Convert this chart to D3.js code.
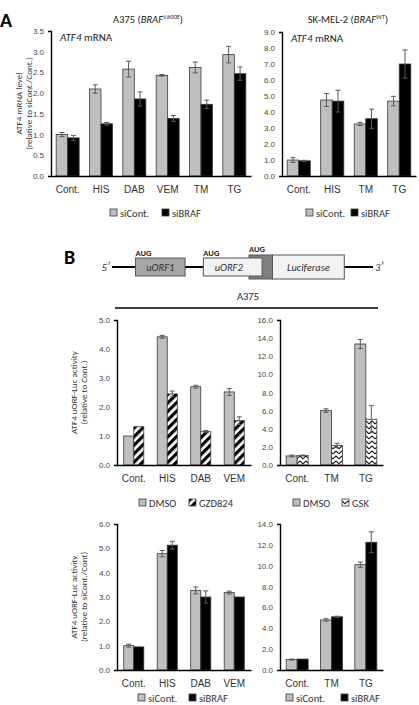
<!DOCTYPE html>
<html>
<head>
<meta charset="utf-8">
<script src="https://cdn.jsdelivr.net/npm/d3@7"></script>
<style>
  body { margin: 0; background: #fff; }
  svg { display: block; font-family: Carlito, Lato, "Open Sans", sans-serif; }
</style>
</head>
<body>
<div id="fig"></div>
<script>
// ---- Panel A : A375 (BRAF V600E), ATF4 mRNA ----
const a375Cats = ["Cont.", "HIS", "DAB", "VEM", "TM", "TG"];
const a375SiCont = [1.0, 2.1, 2.58, 2.43, 2.62, 2.93];
const a375SiContErr = [0.05, 0.1, 0.19, 0.02, 0.13, 0.2];
const a375SiBraf = [0.92, 1.26, 1.86, 1.39, 1.73, 2.47];
const a375SiBrafErr = [0.06, 0.03, 0.17, 0.07, 0.1, 0.16];
const a375Ticks = [0, 0.5, 1.0, 1.5, 2.0, 2.5, 3.0, 3.5];

// ---- Panel A : SK-MEL-2 (BRAF WT), ATF4 mRNA ----
const skCats = ["Cont.", "HIS", "TM", "TG"];
const skSiCont = [1.0, 4.75, 3.25, 4.68];
const skSiContErr = [0.15, 0.4, 0.1, 0.3];
const skSiBraf = [0.95, 4.68, 3.58, 7.0];
const skSiBrafErr = [0.03, 0.68, 0.6, 0.88];
const skTicks = [0, 1, 2, 3, 4, 5, 6, 7, 8, 9];

// ---- Panel B : uORF-Luc, DMSO vs GZD824 ----
const gzdCats = ["Cont.", "HIS", "DAB", "VEM"];
const gzdDmso = [1.0, 4.42, 2.7, 2.52];
const gzdDmsoErr = [0, 0.05, 0.05, 0.12];
const gzdDrug = [1.32, 2.45, 1.15, 1.53];
const gzdDrugErr = [0, 0.1, 0.04, 0.13];
const gzdTicks = [0, 1, 2, 3, 4, 5];

// ---- Panel B : uORF-Luc, DMSO vs GSK ----
const gskCats = ["Cont.", "TM", "TG"];
const gskDmso = [1.0, 6.0, 13.35];
const gskDmsoErr = [0.1, 0.2, 0.5];
const gskDrug = [1.05, 2.15, 5.05];
const gskDrugErr = [0.05, 0.25, 1.5];
const gskTicks = [0, 2, 4, 6, 8, 10, 12, 14, 16];

// ---- Panel B : uORF-Luc, siCont vs siBRAF ----
const lucCats = ["Cont.", "HIS", "DAB", "VEM"];
const lucSiCont = [1.0, 4.78, 3.27, 3.18];
const lucSiContErr = [0.06, 0.13, 0.14, 0.06];
const lucSiBraf = [0.95, 5.13, 3.0, 3.0];
const lucSiBrafErr = [0, 0.16, 0.25, 0];
const lucTicks = [0, 1, 2, 3, 4, 5, 6];

const lucErCats = ["Cont.", "TM", "TG"];
const lucErSiCont = [1.0, 4.8, 10.1];
const lucErSiContErr = [0.05, 0.12, 0.25];
const lucErSiBraf = [1.05, 5.1, 12.25];
const lucErSiBrafErr = [0, 0.06, 1.0];
const lucErTicks = [0, 2, 4, 6, 8, 10, 12, 14];

const GREY = "#bfbfbf";
const EDGE = "#3a3a3a";

const svg = d3.select("#fig").append("svg")
    .attr("width", 419)
    .attr("height", 705);

const defs = svg.append("defs");
// diagonal "/" stripes
const hatch = defs.append("pattern")
    .attr("id", "hatch")
    .attr("patternUnits", "userSpaceOnUse")
    .attr("width", 6).attr("height", 6)
    .attr("patternTransform", "rotate(45)");
hatch.append("rect").attr("width", 6).attr("height", 6).attr("fill", "#fff");
hatch.append("rect").attr("width", 3.2).attr("height", 6).attr("fill", "#000");
// zig-zag waves
const zig = defs.append("pattern")
    .attr("id", "zig")
    .attr("patternUnits", "userSpaceOnUse")
    .attr("width", 6).attr("height", 5);
zig.append("rect").attr("width", 6).attr("height", 5).attr("fill", "#fff");
zig.append("path").attr("d", "M0,1 L3,3.8 L6,1")
    .attr("fill", "none").attr("stroke", "#111").attr("stroke-width", 1.1);

function barChart(cfg) {
    const g = svg.append("g");
    const x = d3.scaleBand().domain(cfg.cats).range([cfg.x0, cfg.x1])
        .paddingInner(cfg.pad).paddingOuter(cfg.pad / 2);
    const xs = d3.scaleBand().domain([0, 1]).range([0, x.bandwidth()]);
    const y = d3.scaleLinear().domain([0, d3.max(cfg.ticks)]).range([cfg.yBottom, cfg.yTop]);

    cfg.series.forEach((s, si) => {
        const rows = cfg.cats.map((c, i) => ({ c: c, v: s.values[i], e: s.err[i] }));
        g.append("g").selectAll("rect")
            .data(rows)
            .join("rect")
            .attr("x", d => x(d.c) + xs(si))
            .attr("y", d => y(d.v))
            .attr("width", xs.bandwidth())
            .attr("height", d => y(0) - y(d.v))
            .attr("fill", s.fill)
            .attr("stroke", EDGE)
            .attr("stroke-width", 0.8);

        g.append("g")
            .attr("stroke", "#5a5a5a")
            .attr("stroke-width", 1)
            .selectAll("path")
            .data(rows.filter(d => d.e > 0))
            .join("path")
            .attr("d", d => {
                const cx = x(d.c) + xs(si) + xs.bandwidth() / 2;
                const y1 = y(d.v + d.e), y2 = y(d.v - d.e);
                return `M${cx - 2.5},${y1}H${cx + 2.5}M${cx},${y1}V${y2}M${cx - 2.5},${y2}H${cx + 2.5}`;
            });
    });

    const yAxis = g.append("g")
        .attr("transform", `translate(${cfg.x0},0)`)
        .call(d3.axisLeft(y).tickValues(cfg.ticks).tickFormat(d3.format(".1f"))
            .tickSize(0).tickSizeOuter(3).tickPadding(7));
    yAxis.select(".domain").attr("stroke", "#000").attr("stroke-width", 1.4);
    yAxis.selectAll("text").attr("font-size", 8).attr("fill", "#444")
        .attr("font-family", "inherit");

    const xAxis = g.append("g")
        .attr("transform", `translate(0,${y(0)})`)
        .call(d3.axisBottom(x).tickSize(0).tickSizeOuter(0).tickPadding(10));
    xAxis.select(".domain").attr("stroke", "#000").attr("stroke-width", 1.5);
    xAxis.selectAll("text").attr("font-size", 10).attr("fill", "#333")
        .attr("font-family", "inherit");

    if (cfg.yTitle) {
        const t = g.append("text")
            .attr("transform", `translate(${cfg.yTitleX},${(cfg.yTop + cfg.yBottom) / 2}) rotate(-90)`)
            .attr("text-anchor", "middle")
            .attr("font-size", 9)
            .attr("fill", "#333");
        cfg.yTitle.forEach((line, i) => {
            t.append("tspan").attr("x", 0).attr("dy", i === 0 ? 0 : 10).text(line);
        });
    }

    if (cfg.inner) {
        const t = g.append("text")
            .attr("x", cfg.x0 + 9).attr("y", cfg.yTop + 10)
            .attr("font-size", 11).attr("fill", "#222");
        t.append("tspan").attr("font-style", "italic").text("ATF4");
        t.append("tspan").text(" mRNA");
    }

    // legend
    const lg = g.append("g").attr("font-size", 10.5).attr("fill", "#333");
    cfg.series.forEach((s, si) => {
        const lx = cfg.legendX[si];
        lg.append("rect")
            .attr("x", lx).attr("y", cfg.legendY - 4)
            .attr("width", 7).attr("height", 7)
            .attr("fill", s.fill).attr("stroke", EDGE).attr("stroke-width", 0.8);
        lg.append("text")
            .attr("x", lx + 10).attr("y", cfg.legendY + 3.5)
            .text(s.name);
    });
}

function title(x, y, cell, gene, sup) {
    const t = svg.append("text")
        .attr("x", x).attr("y", y)
        .attr("text-anchor", "middle")
        .attr("font-size", 10.5).attr("fill", "#222");
    t.append("tspan").text(cell + " (");
    t.append("tspan").attr("font-style", "italic").text(gene);
    t.append("tspan").attr("font-style", "italic").attr("font-size", 6.5)
        .attr("dy", -4).text(sup);
    t.append("tspan").attr("dy", 4).text(")");
}

// panel letters
svg.append("text").attr("x", 0).attr("y", 27)
    .attr("font-size", 20).attr("font-weight", "bold").text("A");
svg.append("text").attr("x", 64).attr("y", 264)
    .attr("font-size", 20).attr("font-weight", "bold").text("B");

title(148, 23, "A375", "BRAF", "V600E");
title(348, 23, "SK-MEL-2", "BRAF", "WT");

barChart({
    cats: a375Cats, ticks: a375Ticks, x0: 51, x1: 251, yTop: 31, yBottom: 176, pad: 0.31,
    series: [
        { name: "siCont.", values: a375SiCont, err: a375SiContErr, fill: GREY },
        { name: "siBRAF", values: a375SiBraf, err: a375SiBrafErr, fill: "#000" }
    ],
    yTitle: ["ATF4 mRNA level", "(relative to siCont./Cont.)"], yTitleX: 22,
    inner: true, legendX: [110, 162], legendY: 213
});

barChart({
    cats: skCats, ticks: skTicks, x0: 282, x1: 416, yTop: 32, yBottom: 176, pad: 0.31,
    series: [
        { name: "siCont.", values: skSiCont, err: skSiContErr, fill: GREY },
        { name: "siBRAF", values: skSiBraf, err: skSiBrafErr, fill: "#000" }
    ],
    inner: true, legendX: [306, 351], legendY: 213
});

// ---- uORF reporter schematic ----
const dx = d3.scaleLinear().domain([0, 100]).range([112, 373]);
const boxes = [
    { name: "uORF1", from: 9, to: 28, top: 258, bottom: 276, fill: "#a6a6a6" },
    { name: "", from: 52.5, to: 61.5, top: 255, bottom: 279, fill: "#7f7f7f" },
    { name: "uORF2", from: 35, to: 57.5, top: 258, bottom: 276, fill: "#f2f2f2" },
    { name: "Luciferase", from: 61.5, to: 89, top: 255, bottom: 279, fill: "#f2f2f2" }
];
const augs = [{ at: 9, y: 257 }, { at: 35, y: 257 }, { at: 52.5, y: 253 }];
const dg = svg.append("g");
dg.append("line").attr("x1", dx(0)).attr("x2", dx(100))
    .attr("y1", 267).attr("y2", 267).attr("stroke", "#000").attr("stroke-width", 2);
dg.selectAll("rect").data(boxes).join("rect")
    .attr("x", d => dx(d.from)).attr("width", d => dx(d.to) - dx(d.from))
    .attr("y", d => d.top).attr("height", d => d.bottom - d.top)
    .attr("fill", d => d.fill).attr("stroke", "#555").attr("stroke-width", 1);
dg.selectAll("text.box").data(boxes.filter(d => d.name)).join("text")
    .attr("class", "box")
    .attr("x", d => (dx(d.from) + dx(d.to)) / 2 + (d.name === "uORF2" ? -4 : 0))
    .attr("y", d => (d.top + d.bottom) / 2 + 3.8)
    .attr("text-anchor", "middle").attr("font-style", "italic")
    .attr("font-size", 10.5).attr("fill", "#333").text(d => d.name);
dg.selectAll("text.aug").data(augs).join("text")
    .attr("class", "aug")
    .attr("x", d => dx(d.at)).attr("y", d => d.y - 1)
    .attr("font-size", 8.5).attr("font-weight", "bold").attr("fill", "#222").text("AUG");
dg.append("text").attr("x", dx(0) - 2).attr("y", 271).attr("text-anchor", "end")
    .attr("font-size", 10.5).attr("font-style", "italic").attr("fill", "#333").text("5\u2032");
dg.append("text").attr("x", dx(100) + 2).attr("y", 271)
    .attr("font-size", 10.5).attr("font-style", "italic").attr("fill", "#333").text("3\u2032");

svg.append("text").attr("x", 248).attr("y", 300).attr("text-anchor", "middle")
    .attr("font-size", 10.5).attr("fill", "#222").text("A375");
svg.append("line").attr("x1", 115).attr("x2", 378).attr("y1", 308).attr("y2", 308)
    .attr("stroke", "#000").attr("stroke-width", 1.3);

barChart({
    cats: gzdCats, ticks: gzdTicks, x0: 117, x1: 251, yTop: 320, yBottom: 465, pad: 0.4,
    series: [
        { name: "DMSO", values: gzdDmso, err: gzdDmsoErr, fill: GREY },
        { name: "GZD824", values: gzdDrug, err: gzdDrugErr, fill: "url(#hatch)" }
    ],
    yTitle: ["ATF4 uORF-Luc activity", "(relative to Cont.)"], yTitleX: 77,
    legendX: [139, 189], legendY: 503
});

barChart({
    cats: gskCats, ticks: gskTicks, x0: 280, x1: 383, yTop: 320, yBottom: 465, pad: 0.36,
    series: [
        { name: "DMSO", values: gskDmso, err: gskDmsoErr, fill: GREY },
        { name: "GSK", values: gskDrug, err: gskDrugErr, fill: "url(#zig)" }
    ],
    legendX: [293, 342], legendY: 503
});

barChart({
    cats: lucCats, ticks: lucTicks, x0: 117, x1: 251, yTop: 524, yBottom: 670, pad: 0.4,
    series: [
        { name: "siCont.", values: lucSiCont, err: lucSiContErr, fill: GREY },
        { name: "siBRAF", values: lucSiBraf, err: lucSiBrafErr, fill: "#000" }
    ],
    yTitle: ["ATF4 uORF-Luc activity", "(relative to siCont./Cont)"], yTitleX: 77,
    legendX: [138, 189], legendY: 698
});

barChart({
    cats: lucErCats, ticks: lucErTicks, x0: 280, x1: 383, yTop: 524, yBottom: 670, pad: 0.36,
    series: [
        { name: "siCont.", values: lucErSiCont, err: lucErSiContErr, fill: GREY },
        { name: "siBRAF", values: lucErSiBraf, err: lucErSiBrafErr, fill: "#000" }
    ],
    legendX: [286, 341], legendY: 698
});
</script>
</body>
</html>
